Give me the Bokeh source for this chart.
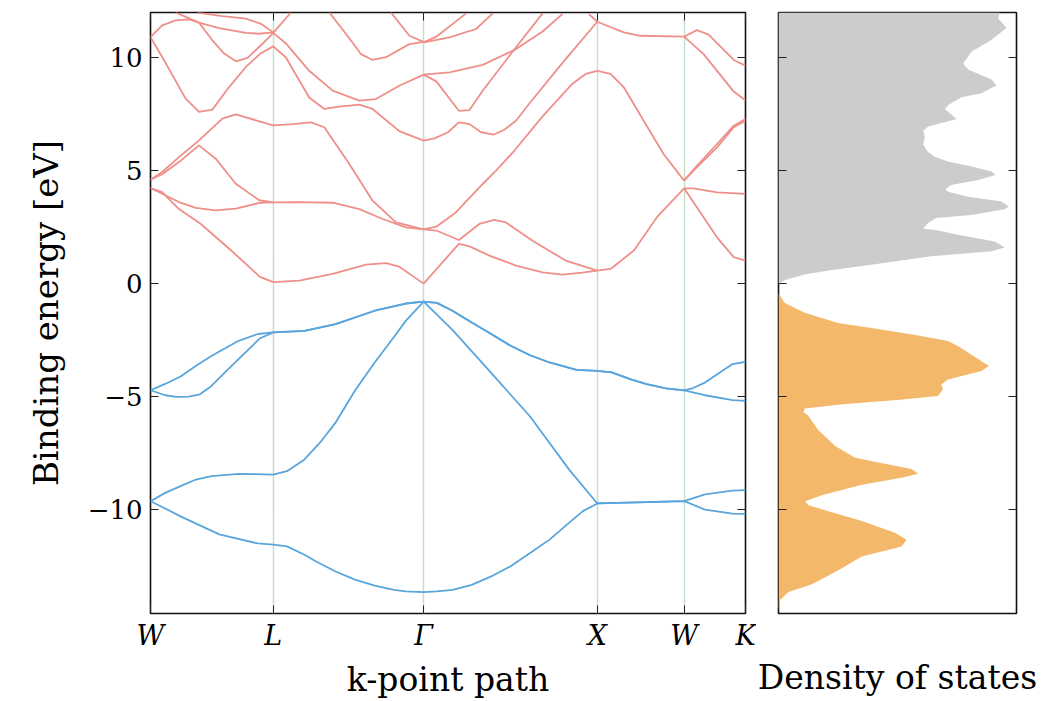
from bokeh.plotting import figure
from bokeh.layouts import row
from bokeh.models import Range1d, FixedTicker, LinearAxis
from bokeh.embed import file_html
from bokeh.resources import INLINE

# ---------------- data ----------------
kpoint_labels = ["W", "L", "Γ", "X", "W", "K"]
kpoint_pos = [0.0, 0.7071, 1.5731, 2.5731, 3.0731, 3.4267]

energy_ticks = [-10, -5, 0, 5, 10]
energy_tick_labels = ["−10", "−5", "0", "5", "10"]
energy_min, energy_max = -14.6, 12.0

# valence bands (k, E in eV)
vb1_k = [0, .0845, .173, .396, .618, .7071, .786, .887, .954, 1.066, 1.178, 1.291, 1.403, 1.470, 1.5731,
         1.649, 1.739, 1.850, 1.962, 2.074, 2.186, 2.298, 2.410, 2.490, 2.5731, 2.857, 3.0731, 3.193, 3.352, 3.4267]
vb1_E = [-9.63, -9.95, -10.3, -11.1, -11.5, -11.55, -11.63, -12.0, -12.3, -12.74, -13.1, -13.37, -13.55, -13.62, -13.65,
         -13.62, -13.55, -13.33, -12.96, -12.51, -11.92, -11.33, -10.59, -10.07, -9.73, -9.67, -9.63, -10.0, -10.18, -10.19]

vb2_k = [0, .0845, .173, .262, .351, .507, .7071, .786, .887, .977, 1.066, 1.178, 1.291, 1.403, 1.470, 1.5731,
         1.739, 1.962, 2.186, 2.410, 2.5731, 2.857, 3.0731, 3.193, 3.352, 3.4267]
vb2_E = [-9.63, -9.26, -8.96, -8.67, -8.52, -8.42, -8.45, -8.3, -7.78, -7.03, -6.15, -4.73, -3.49, -2.35, -1.65, -0.8,
         -2.05, -3.95, -5.88, -8.22, -9.73, -9.67, -9.63, -9.33, -9.16, -9.14]

vb3_k = [0, .0845, .151, .218, .285, .351, .429, .507, .629, .7071, .887, 1.066, 1.291, 1.470, 1.5731,
         1.649, 1.739, 1.850, 1.962, 2.074, 2.186, 2.298, 2.454, 2.5731, 2.656, 2.767, 2.857, 2.968, 3.0731,
         3.193, 3.352, 3.4267]
vb3_E = [-4.72, -4.94, -5.01, -5.0, -4.9, -4.53, -3.93, -3.34, -2.43, -2.16, -2.09, -1.79, -1.2, -0.88, -0.8,
         -0.85, -1.2, -1.72, -2.23, -2.75, -3.17, -3.49, -3.82, -3.86, -3.93, -4.24, -4.45, -4.64, -4.72,
         -4.94, -5.16, -5.19]

vb4_k = [0, .0845, .173, .262, .351, .507, .618, .7071, .887, 1.066, 1.291, 1.470, 1.5731,
         1.649, 1.739, 1.850, 1.962, 2.074, 2.186, 2.298, 2.454, 2.5731, 2.656, 2.767, 2.857, 2.968, 3.0731,
         3.125, 3.193, 3.352, 3.4267]
vb4_E = [-4.72, -4.44, -4.11, -3.63, -3.2, -2.53, -2.23, -2.16, -2.09, -1.79, -1.2, -0.88, -0.8,
         -0.85, -1.2, -1.72, -2.23, -2.75, -3.17, -3.49, -3.82, -3.86, -3.93, -4.24, -4.45, -4.64, -4.72,
         -4.62, -4.38, -3.56, -3.46]

# conduction band pieces, segment by segment: (k list, E list)
cond_W_L = [
    ([0, .067, .164, .288, .46, .56, .63, .7071], [4.23, 4.05, 3.3, 2.65, 1.5, 0.8, 0.3, 0.07]),
    ([0, .0674, .1638, .2601, .3757, .4913, .6262, .7071], [4.23, 3.98, 3.61, 3.35, 3.24, 3.32, 3.57, 3.6]),
    ([0, .0674, .1638, .2794, .3757, .4913, .6262, .7071], [4.6, 4.84, 5.38, 6.12, 5.53, 4.42, 3.69, 3.6]),
    ([0, .0674, .1638, .2794, .4143, .4913, .6069, .7071], [4.6, 4.94, 5.6, 6.34, 7.3, 7.49, 7.23, 7.0]),
    ([0, .0674, .2023, .2794, .3564, .4528, .5491, .6358, .7071], [10.91, 10.03, 8.19, 7.6, 7.7, 8.7, 9.59, 10.2, 10.5]),
    ([0, .0674, .1445, .2216, .2794, .3564, .4239, .4913, .5588, .6358, .7071],
     [10.91, 11.43, 11.65, 11.7, 11.55, 10.77, 10.18, 9.84, 9.99, 10.55, 11.1]),
    ([.1445, .2794, .395, .5491, .6262, .7071], [12.0, 11.55, 11.31, 11.1, 11.06, 11.12]),
    ([.27, .4143, .5491, .6358, .7071], [12.0, 11.84, 11.73, 11.5, 11.12]),
]
cond_L_G = [
    ([.7071, .857, 1.049, 1.241, 1.356, 1.433, 1.5731], [.07, .13, .43, .84, .91, .75, 0.0]),
    ([.7071, .857, 1.049, 1.203, 1.337, 1.471, 1.5731], [3.6, 3.61, 3.58, 3.3, 2.86, 2.49, 2.4]),
    ([.7071, .818, .924, 1.001, 1.145, 1.279, 1.414, 1.5731], [7.0, 7.06, 7.14, 6.92, 5.29, 3.67, 2.71, 2.4]),
    ([.7071, .780, .914, 1.001, 1.087, 1.203, 1.279, 1.433, 1.5731], [10.5, 10.01, 8.24, 7.73, 7.83, 7.92, 7.73, 6.75, 6.33]),
    ([.7071, .780, .914, 1.049, 1.203, 1.298, 1.433, 1.5731], [11.1, 10.63, 9.42, 8.54, 8.1, 8.17, 8.76, 9.25]),
    ([.7071, .809], [11.1, 12.0]),
    ([1.030, 1.126, 1.212, 1.279, 1.356, 1.491, 1.5731], [12.0, 11.05, 10.16, 9.9, 10.02, 10.6, 10.7]),
    ([1.385, 1.491, 1.5731], [12.0, 10.97, 10.7]),
]
cond_G_X = [
    ([1.5731, 1.776, 1.837, 1.952, 2.105, 2.258, 2.372, 2.487, 2.5731], [0.0, 1.76, 1.65, 1.24, 0.8, 0.5, 0.4, 0.49, 0.58]),
    ([1.5731, 1.646, 1.776, 1.894, 1.980, 2.047, 2.200, 2.391, 2.5731], [2.4, 2.35, 1.93, 2.64, 2.82, 2.71, 1.9, 1.02, 0.58]),
    ([1.5731, 1.646, 1.760, 1.913, 1.990, 2.095, 2.258, 2.430, 2.506, 2.5731], [2.4, 2.52, 3.16, 4.41, 5.0, 5.88, 7.4, 8.85, 9.28, 9.42]),
    ([1.5731, 1.636, 1.713, 1.776, 1.837, 1.904, 1.975, 2.038, 2.105, 2.19, 2.381, 2.5731],
     [6.33, 6.43, 6.7, 7.14, 7.06, 6.7, 6.59, 6.81, 7.21, 8.05, 9.85, 11.59]),
    ([1.5731, 1.646, 1.776, 1.837, 1.913, 2.105, 2.258], [9.25, 8.95, 7.65, 7.68, 8.54, 10.46, 11.96]),
    ([1.5731, 1.722, 1.913, 2.105, 2.258, 2.372], [9.25, 9.35, 9.68, 10.38, 11.16, 11.93]),
    ([1.5731, 1.722, 1.875, 1.971], [10.68, 10.9, 11.27, 11.96]),
    ([1.5731, 1.646, 1.818], [10.68, 10.93, 11.96]),
    ([2.525, 2.5731], [11.93, 11.59]),
]
cond_X_W = [
    ([2.5731, 2.6494, 2.783, 2.9166, 3.0731], [0.58, 0.65, 1.46, 2.94, 4.22]),
    ([2.5731, 2.6494, 2.7258, 2.8403, 2.9548, 3.0731], [9.42, 9.28, 8.69, 7.21, 5.74, 4.56]),
    ([2.5731, 2.7258, 2.8212, 3.0731], [11.59, 11.12, 10.97, 10.93]),
]
cond_W_K = [
    ([3.0731, 3.1272, 3.2625, 3.4267], [4.22, 4.22, 4.04, 3.97]),
    ([3.0731, 3.1465, 3.2625, 3.3591, 3.4267], [4.22, 3.38, 2.05, 1.17, 1.02]),
    ([3.0731, 3.1272, 3.2625, 3.3591, 3.4267], [4.56, 5.0, 6.03, 6.92, 7.21]),
    ([3.0731, 3.1272, 3.2625, 3.3591, 3.4267], [4.56, 5.05, 6.18, 6.99, 7.29]),
    ([3.0731, 3.1465, 3.2142, 3.3591, 3.4267], [10.93, 11.22, 11.02, 9.9, 9.65]),
    ([3.0731, 3.1852, 3.3591, 3.4267], [10.93, 10.16, 8.5, 8.1]),
]

# density of states (arbitrary units)
dos_cond_E = [0.0, 0.15, 0.4, 0.58, 0.84, 1.21, 1.43, 1.6, 1.87, 2.16, 2.38, 2.43, 2.68, 2.9, 3.04, 3.29, 3.41,
              3.63, 3.85, 4.07, 4.18, 4.37, 4.59, 4.81, 4.96, 5.18, 5.4, 5.62, 5.84, 6.16, 6.51, 6.77, 6.95,
              7.29, 7.73, 7.91, 8.25, 8.43, 8.78, 9.04, 9.48, 9.74, 10.26, 10.79, 11.31, 11.75, 12.0]
dos_cond = [0.0, 0.025, 0.109, 0.21, 0.39, 0.642, 0.895, 0.951, 0.909, 0.754, 0.656, 0.607, 0.628, 0.663, 0.81,
            0.951, 0.968, 0.937, 0.797, 0.712, 0.701, 0.726, 0.839, 0.912, 0.895, 0.811, 0.712, 0.656, 0.628,
            0.608, 0.615, 0.608, 0.629, 0.748, 0.699, 0.713, 0.769, 0.853, 0.916, 0.895, 0.797, 0.776, 0.811,
            0.895, 0.958, 0.923, 0.93]

dos_val_E = [-0.41, -0.85, -1.29, -1.74, -2.03, -2.32, -2.54, -2.76, -3.43, -3.65, -3.87, -4.24, -4.46, -4.68,
             -4.97, -5.15, -5.34, -5.53, -5.68, -5.85, -6.49, -7.19, -7.71, -7.92, -8.2, -8.41, -8.59, -8.9,
             -9.37, -9.63, -9.81, -10.16, -10.51, -11.03, -11.34, -11.64, -12.08, -12.69, -13.3, -13.65, -14.0,
             -14.43, -14.6]
dos_val = [0.0, 0.025, 0.11, 0.25, 0.432, 0.6, 0.712, 0.754, 0.853, 0.884, 0.853, 0.712, 0.684, 0.691,
           0.67, 0.5, 0.27, 0.11, 0.105, 0.125, 0.168, 0.238, 0.322, 0.42, 0.559, 0.587, 0.517, 0.35,
           0.182, 0.112, 0.126, 0.238, 0.35, 0.49, 0.538, 0.517, 0.35, 0.252, 0.14, 0.042, 0.007,
           0.0, 0.0]

# ---------------- styles ----------------
SERIF = "DejaVu Serif"
COND_COLOR = "#ef8f8a"
VAL_COLOR = "#5aa5dc"
GRID_COLOR = "#c6dccc"
DOS_COND_COLOR = "#cccccc"
DOS_VAL_COLOR = "#f4b86a"


def tick_style(ax, show_labels):
    ax.major_tick_in = 8
    ax.major_tick_out = 0
    ax.minor_tick_in = 0
    ax.minor_tick_out = 0
    ax.axis_line_color = None
    ax.major_tick_line_color = "#222222"
    ax.major_tick_line_width = 1
    if not show_labels:
        ax.major_label_text_color = None
        ax.major_label_text_font_size = "1px"
        ax.major_label_standoff = 0


# ---------------- band structure ----------------
p1 = figure(frame_width=595, frame_height=601,
            x_range=Range1d(kpoint_pos[0], kpoint_pos[-1]),
            y_range=Range1d(energy_min, energy_max),
            output_backend="svg", toolbar_location=None,
            min_border_left=150, min_border_right=11, min_border_top=12, min_border_bottom=88)
p1.outline_line_color = "#111111"
p1.outline_line_width = 1.6
p1.background_fill_color = "white"
p1.border_fill_color = "white"

p1.xgrid.ticker = FixedTicker(ticks=kpoint_pos)
p1.xgrid.grid_line_color = GRID_COLOR
p1.xgrid.grid_line_width = 1.5
p1.ygrid.visible = False

xa = p1.xaxis[0]
xa.ticker = FixedTicker(ticks=kpoint_pos)
xa.major_label_overrides = {kp: lab for kp, lab in zip(kpoint_pos, kpoint_labels)}
tick_style(xa, True)
xa.major_label_text_font = SERIF
xa.major_label_text_font_style = "italic"
xa.major_label_text_font_size = "27px"
xa.major_label_text_color = "black"
xa.major_label_standoff = 6
xa.axis_label = "k-point path"
xa.axis_label_text_font = SERIF
xa.axis_label_text_font_style = "normal"
xa.axis_label_text_font_size = "33px"
xa.axis_label_text_color = "black"
xa.axis_label_standoff = 6

ya = p1.yaxis[0]
ya.ticker = FixedTicker(ticks=energy_ticks)
ya.major_label_overrides = {t: lab for t, lab in zip(energy_ticks, energy_tick_labels)}
tick_style(ya, True)
ya.major_label_text_font = SERIF
ya.major_label_text_font_size = "26px"
ya.major_label_text_color = "black"
ya.major_label_standoff = 8
ya.axis_label = "Binding energy [eV]"
ya.axis_label_text_font = SERIF
ya.axis_label_text_font_style = "normal"
ya.axis_label_text_font_size = "34px"
ya.axis_label_text_color = "black"
ya.axis_label_standoff = 19

top_ax = LinearAxis(ticker=FixedTicker(ticks=kpoint_pos))
tick_style(top_ax, False)
p1.add_layout(top_ax, "above")
right_ax = LinearAxis(ticker=FixedTicker(ticks=energy_ticks))
tick_style(right_ax, False)
p1.add_layout(right_ax, "right")

cond_pieces = cond_W_L + cond_L_G + cond_G_X + cond_X_W + cond_W_K
p1.multi_line(xs=[c[0] for c in cond_pieces], ys=[c[1] for c in cond_pieces],
              line_color=COND_COLOR, line_width=1.8, line_join="round")
p1.multi_line(xs=[vb1_k, vb2_k, vb3_k, vb4_k], ys=[vb1_E, vb2_E, vb3_E, vb4_E],
              line_color=VAL_COLOR, line_width=1.8, line_join="round")

# ---------------- density of states ----------------
p2 = figure(frame_width=238, frame_height=601,
            x_range=Range1d(0, 1.0), y_range=Range1d(energy_min, energy_max),
            output_backend="svg", toolbar_location=None,
            min_border_left=22, min_border_right=43, min_border_top=12, min_border_bottom=88)
p2.outline_line_color = "#111111"
p2.outline_line_width = 1.6
p2.grid.visible = False

p2.harea(x1=[0.0] * len(dos_cond_E), x2=dos_cond, y=dos_cond_E, fill_color=DOS_COND_COLOR)
p2.harea(x1=[0.0] * len(dos_val_E), x2=dos_val, y=dos_val_E, fill_color=DOS_VAL_COLOR)

xb = p2.xaxis[0]
xb.ticker = FixedTicker(ticks=[])
tick_style(xb, False)
xb.axis_label = "Density of states"
xb.axis_label_text_font = SERIF
xb.axis_label_text_font_style = "normal"
xb.axis_label_text_font_size = "33px"
xb.axis_label_text_color = "black"
xb.axis_label_standoff = 44

yb = p2.yaxis[0]
yb.ticker = FixedTicker(ticks=energy_ticks)
tick_style(yb, False)
right_ax2 = LinearAxis(ticker=FixedTicker(ticks=energy_ticks))
tick_style(right_ax2, False)
p2.add_layout(right_ax2, "right")

layout = row(p1, p2, spacing=0)
open("out.html", "w").write(file_html(layout, INLINE))
